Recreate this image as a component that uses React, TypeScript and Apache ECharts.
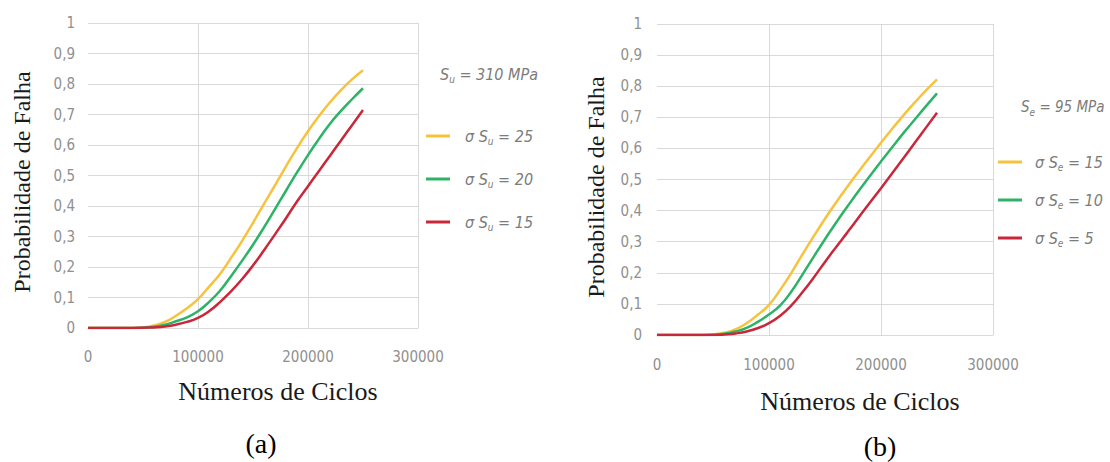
import React, { useEffect, useRef } from "react";
import * as echarts from "echarts";

// Number of cycles (x values) shared by all curves
const cycles = [
  0, 10000, 20000, 30000, 40000, 50000, 60000, 70000, 80000, 90000, 100000,
  110000, 120000, 130000, 140000, 150000, 160000, 170000, 180000, 190000,
  200000, 210000, 220000, 230000, 240000, 250000,
];

// Chart (a): Su = 310 MPa
const aSigma25 = [0, 0, 0, 0, 0, 0.002, 0.008, 0.02, 0.04, 0.065, 0.095, 0.135, 0.177, 0.23, 0.285, 0.345, 0.407, 0.468, 0.53, 0.59, 0.645, 0.695, 0.74, 0.78, 0.815, 0.845];
const aSigma20 = [0, 0, 0, 0, 0, 0.001, 0.004, 0.011, 0.022, 0.035, 0.055, 0.085, 0.122, 0.17, 0.22, 0.273, 0.33, 0.39, 0.45, 0.51, 0.567, 0.62, 0.67, 0.712, 0.75, 0.786];
const aSigma15 = [0, 0, 0, 0, 0, 0.001, 0.002, 0.005, 0.011, 0.02, 0.033, 0.055, 0.085, 0.12, 0.16, 0.205, 0.255, 0.307, 0.36, 0.415, 0.465, 0.515, 0.565, 0.615, 0.665, 0.715];

// Chart (b): Se = 95 MPa
const bSigma15 = [0, 0, 0, 0, 0, 0.002, 0.007, 0.018, 0.038, 0.065, 0.097, 0.145, 0.2, 0.26, 0.318, 0.374, 0.427, 0.477, 0.525, 0.572, 0.618, 0.663, 0.706, 0.747, 0.786, 0.822];
const bSigma10 = [0, 0, 0, 0, 0, 0.001, 0.004, 0.011, 0.023, 0.042, 0.066, 0.095, 0.14, 0.195, 0.252, 0.308, 0.362, 0.413, 0.463, 0.511, 0.558, 0.604, 0.649, 0.692, 0.735, 0.777];
const bSigma5 = [0, 0, 0, 0, 0, 0, 0.002, 0.005, 0.011, 0.022, 0.038, 0.062, 0.095, 0.138, 0.185, 0.235, 0.283, 0.33, 0.378, 0.425, 0.472, 0.52, 0.568, 0.617, 0.666, 0.715];

const legendA = ["σ Su = 25", "σ Su = 20", "σ Su = 15"];
const legendB = ["σ Se = 15", "σ Se = 10", "σ Se = 5"];
const xTicks = [0, 100000, 200000, 300000];

const COLORS = ["#f7c23c", "#2cb367", "#c9273a"];
const GRID = "#d9d9d9";
const TICK_FONT = "'Liberation Sans Narrow', 'DejaVu Sans Condensed', sans-serif";
const SERIF = "'Liberation Serif', 'DejaVu Serif', serif";
const GRAY = "#7c7c7c";

const pair = (ys: number[]) => cycles.map((c, i) => [c, ys[i]]);

const richStyles = {
  s: { fontFamily: TICK_FONT, fontStyle: "italic", fontWeight: "normal", fontSize: 16, lineHeight: 20, color: GRAY },
  sub: { fontFamily: TICK_FONT, fontStyle: "italic", fontWeight: "normal", fontSize: 10, lineHeight: 20, color: GRAY, verticalAlign: "bottom" },
};
const richSmall = {
  s: { ...richStyles.s, fontSize: 15 },
  sub: { ...richStyles.sub, fontSize: 10 },
};

function legendLabel(name: string, padW: number) {
  const m = name.match(/^σ S(\w) = (\d+)$/);
  if (!m) return name;
  return `{p${padW}|}{s|σ S}{sub|${m[1]}}{s| = ${m[2]}}`;
}

export default function App() {
  const ref = useRef<HTMLDivElement>(null);
  useEffect(() => {
    document.body.style.margin = "0";
    if (!ref.current) return;
    const chart = echarts.init(ref.current, null, { renderer: "svg" });

    const yAxisBase = (gridIndex: number, gap: number, labelMargin: number, padRight: number) => ({
      type: "value" as const,
      gridIndex,
      min: 0,
      max: 1,
      interval: 0.1,
      name: "Probabilidade de Falha",
      nameLocation: "middle" as const,
      nameGap: gap,
      nameTextStyle: { fontFamily: SERIF, fontSize: 24, color: "#1a1a1a", padding: [0, padRight, 0, 0] },
      axisLine: { show: false },
      axisTick: { show: false },
      axisLabel: {
        margin: labelMargin,
        fontFamily: TICK_FONT,
        fontSize: 15,
        color: "#8f8f8f",
        formatter: (v: number) => (v === 0 ? "0" : v === 1 ? "1" : v.toFixed(1).replace(".", ",")),
      },
      splitLine: { show: true, lineStyle: { color: GRID, width: 1 } },
    });

    const xAxisBase = (gridIndex: number, gap: number, labelMargin: number, padLeft: number) => ({
      type: "value" as const,
      gridIndex,
      min: xTicks[0],
      max: xTicks[xTicks.length - 1],
      interval: xTicks[1] - xTicks[0],
      name: "Números de Ciclos",
      nameLocation: "middle" as const,
      nameGap: gap,
      nameTextStyle: { fontFamily: SERIF, fontSize: 26, color: "#1a1a1a", padding: [0, 0, 0, padLeft], verticalAlign: "top" },
      axisLine: { show: true, lineStyle: { color: GRID, width: 1 } },
      axisTick: { show: false },
      axisLabel: {
        margin: labelMargin,
        fontFamily: TICK_FONT,
        fontSize: 15,
        color: "#8f8f8f",
        formatter: (v: number) => String(v),
      },
      splitLine: { show: true, showMinLine: false, lineStyle: { color: GRID, width: 1 } },
    });

    const line = (name: string, data: number[], idx: number, color: string) => ({
      name,
      type: "line" as const,
      xAxisIndex: idx,
      yAxisIndex: idx,
      data: pair(data),
      smooth: true,
      showSymbol: false,
      lineStyle: { color, width: 2.5 },
      itemStyle: { color },
    });

    const legendRich = (padW: number) => ({
      ...richStyles,
      [`p${padW}`]: { width: padW, lineHeight: 20 },
    });

    chart.setOption({
      animation: false,
      backgroundColor: "#ffffff",
      grid: [
        { left: 88, top: 23, width: 330, height: 305 },
        { left: 657, top: 24, width: 336, height: 311 },
      ],
      xAxis: [xAxisBase(0, 50, 21, 50), xAxisBase(1, 53, 22, 70)],
      yAxis: [yAxisBase(0, 54, 13, 13), yAxisBase(1, 49, 15, 15)],
      title: [
        {
          text: "{s|S}{sub|u}{s| = 310 MPa}",
          left: 435,
          top: 59,
          textStyle: { rich: richStyles },
        },
        {
          text: "{s|S}{sub|e}{s| = 95 MPa}",
          left: 1016,
          top: 92,
          textStyle: { rich: richSmall },
        },
        {
          text: "(a)",
          left: 256,
          top: 424,
          textAlign: "center",
          textStyle: { fontFamily: SERIF, fontSize: 28, fontWeight: "normal", color: "#000" },
        },
        {
          text: "(b)",
          left: 875,
          top: 427,
          textAlign: "center",
          textStyle: { fontFamily: SERIF, fontSize: 28, fontWeight: "normal", color: "#000" },
        },
      ],
      legend: [
        {
          data: legendA,
          orient: "vertical",
          left: 421,
          top: 121,
          itemWidth: 24,
          itemHeight: 3,
          itemGap: 23,
          icon: "rect",
          formatter: (n: string) => legendLabel(n, 10),
          textStyle: { lineHeight: 20, rich: legendRich(10) },
        },
        {
          data: legendB,
          orient: "vertical",
          left: 993,
          top: 147,
          itemWidth: 24,
          itemHeight: 3,
          itemGap: 18,
          icon: "rect",
          formatter: (n: string) => legendLabel(n, 8),
          textStyle: { lineHeight: 20, rich: legendRich(8) },
        },
      ],
      series: [
        line(legendA[0], aSigma25, 0, COLORS[0]),
        line(legendA[1], aSigma20, 0, COLORS[1]),
        line(legendA[2], aSigma15, 0, COLORS[2]),
        line(legendB[0], bSigma15, 1, COLORS[0]),
        line(legendB[1], bSigma10, 1, COLORS[1]),
        line(legendB[2], bSigma5, 1, COLORS[2]),
      ],
    });
    return () => chart.dispose();
  }, []);
  return <div ref={ref} style={{ width: 1110, height: 462 }} />;
}
